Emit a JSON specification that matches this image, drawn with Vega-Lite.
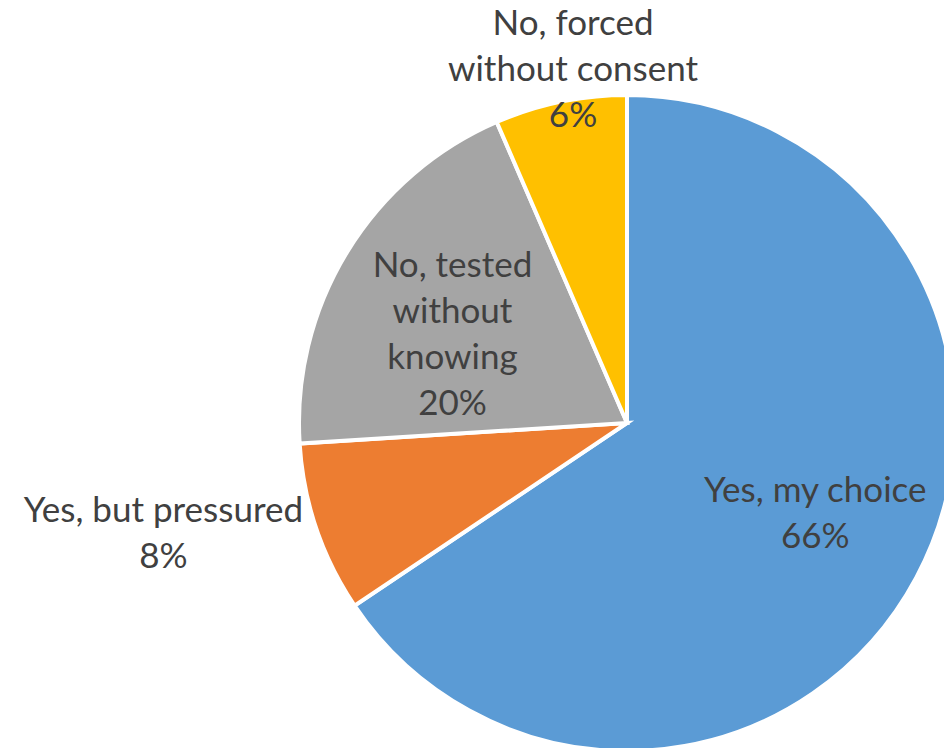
{
  "$schema": "https://vega.github.io/schema/vega-lite/v6.json",
  "autosize": "none",
  "width": 634,
  "height": 650,
  "padding": {"left": 310, "top": 98, "right": 0, "bottom": 0},
  "background": "white",
  "data": {
    "values": [
      {"category": "Yes, my choice", "value": 65.6, "rank": 1, "label": "Yes, my choice\n66%"},
      {"category": "Yes, but pressured", "value": 8.4, "rank": 2, "label": "Yes, but pressured\n8%"},
      {"category": "No, tested without knowing", "value": 19.5, "rank": 3, "label": "No, tested\nwithout\nknowing\n20%"},
      {"category": "No, forced without consent", "value": 6.5, "rank": 4, "label": "No, forced\nwithout consent\n6%"}
    ]
  },
  "encoding": {
    "theta": {"field": "value", "type": "quantitative", "stack": true},
    "order": {"field": "rank", "type": "quantitative"}
  },
  "layer": [
    {
      "mark": {"type": "arc", "outerRadius": 328, "stroke": "white", "strokeWidth": 4},
      "encoding": {
        "color": {
          "field": "category",
          "type": "nominal",
          "scale": {
            "domain": ["Yes, my choice", "Yes, but pressured", "No, tested without knowing", "No, forced without consent"],
            "range": ["#5B9BD5", "#ED7D31", "#A5A5A5", "#FFC000"]
          },
          "legend": null
        }
      }
    },
    {
      "mark": {"type": "text", "radius": 210, "dx": 3, "dy": -31, "font": "Lato", "fontSize": 35, "lineHeight": 46, "lineBreak": "\n", "color": "#404040", "align": "center", "baseline": "middle"},
      "encoding": {"text": {"condition": {"test": "datum.rank === 1", "field": "label"}, "value": ""}}
    },
    {
      "mark": {"type": "text", "radius": 480, "dx": -9, "dy": -66, "font": "Lato", "fontSize": 35, "lineHeight": 46, "lineBreak": "\n", "color": "#404040", "align": "center", "baseline": "middle"},
      "encoding": {"text": {"condition": {"test": "datum.rank === 2", "field": "label"}, "value": ""}}
    },
    {
      "mark": {"type": "text", "radius": 200, "dx": -4, "dy": -53, "font": "Lato", "fontSize": 35, "lineHeight": 46, "lineBreak": "\n", "color": "#404040", "align": "center", "baseline": "middle"},
      "encoding": {"text": {"condition": {"test": "datum.rank === 3", "field": "label"}, "value": ""}}
    },
    {
      "mark": {"type": "text", "radius": 355, "dx": 18, "dy": -51, "font": "Lato", "fontSize": 35, "lineHeight": 46, "lineBreak": "\n", "color": "#404040", "align": "center", "baseline": "middle"},
      "encoding": {"text": {"condition": {"test": "datum.rank === 4", "field": "label"}, "value": ""}}
    }
  ],
  "view": {"stroke": null}
}
